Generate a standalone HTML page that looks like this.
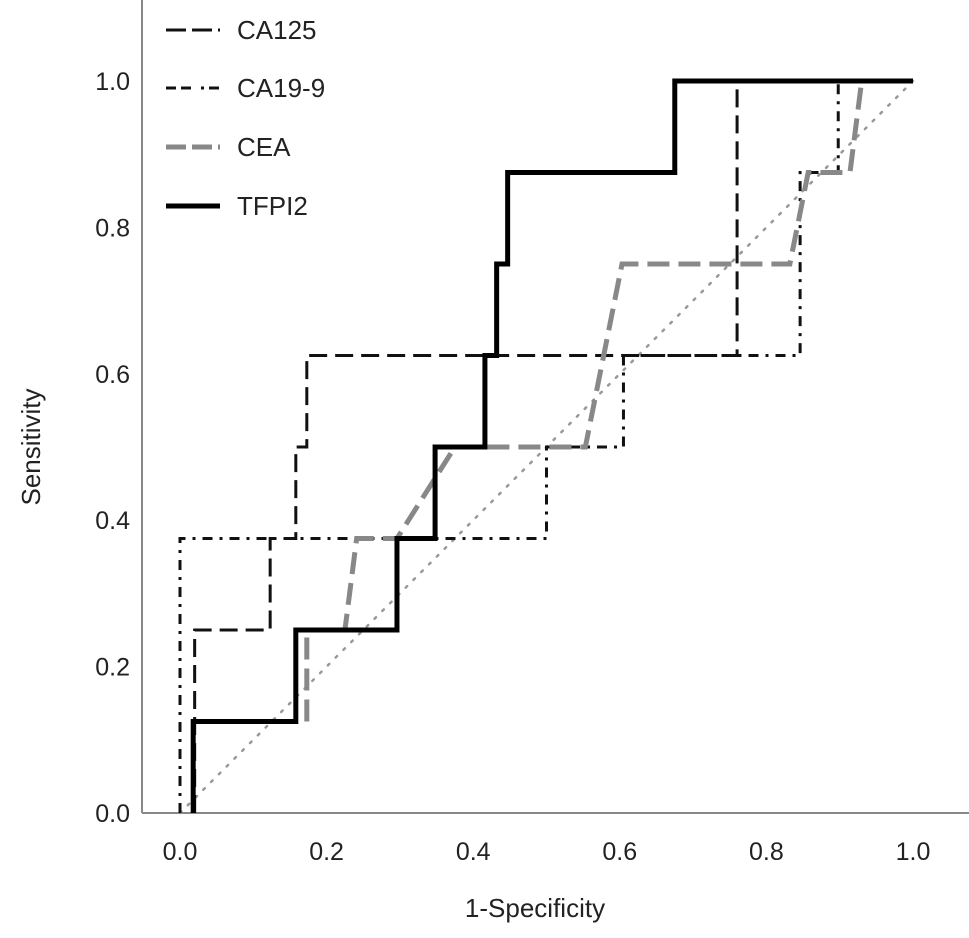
<!DOCTYPE html>
<html><head><meta charset="utf-8"><style>
html,body{margin:0;padding:0;background:#fff;}
svg{display:block;font-family:"Liberation Sans",Arial,sans-serif;}
</style></head><body>
<svg id="chart" width="969" height="938" viewBox="0 0 969 938">
<g id="axes"></g>
<g id="series"></g>
<g id="legend"></g>
<text x="535" y="917" font-size="26" text-anchor="middle" fill="#222">1-Specificity</text>
<text x="40" y="447" font-size="26" text-anchor="middle" fill="#222" transform="rotate(-90 40 447)">Sensitivity</text>
</svg>
<script>
const xTicks = [0, 0.2, 0.4, 0.6, 0.8, 1.0];
const yTicks = [0, 0.2, 0.4, 0.6, 0.8, 1.0];
const seriesNames = ["CA125", "CA19-9", "CEA", "TFPI2"];
const ca125X = [0.02, 0.02, 0.123, 0.123, 0.158, 0.158, 0.173, 0.173, 0.76, 0.76, 1];
const ca125Y = [0, 0.25, 0.25, 0.375, 0.375, 0.5, 0.5, 0.625, 0.625, 1, 1];
const ca199X = [0, 0, 0.5, 0.5, 0.605, 0.605, 0.846, 0.846, 0.898, 0.898, 1];
const ca199Y = [0, 0.375, 0.375, 0.5, 0.5, 0.625, 0.625, 0.875, 0.875, 1, 1];
const ceaX = [0.173, 0.173, 0.225, 0.241, 0.296, 0.375, 0.553, 0.603, 0.832, 0.857, 0.914, 0.93, 1];
const ceaY = [0.125, 0.25, 0.25, 0.375, 0.375, 0.5, 0.5, 0.75, 0.75, 0.875, 0.875, 1, 1];
const tfpiX = [0.018, 0.018, 0.158, 0.158, 0.296, 0.296, 0.348, 0.348, 0.416, 0.416, 0.432, 0.432, 0.447, 0.447, 0.675, 0.675, 1];
const tfpiY = [0, 0.125, 0.125, 0.25, 0.25, 0.375, 0.375, 0.5, 0.5, 0.625, 0.625, 0.75, 0.75, 0.875, 0.875, 1, 1];
const refX = [0, 1];
const refY = [0, 1];

const NS = "http://www.w3.org/2000/svg";
const sx = v => 180 + v * 733;
const sy = v => 813 - v * 732;
function mk(tag, attrs, parent) {
  const e = document.createElementNS(NS, tag);
  for (const k in attrs) e.setAttribute(k, attrs[k]);
  parent.appendChild(e);
  return e;
}
const axes = document.getElementById("axes");
const la = mk("line", {x1:142, y1:0, x2:142, y2:813, stroke:"#888", "stroke-width":2}, axes);


const ba = mk("line", {x1:142, y1:813, x2:969, y2:813, stroke:"#888", "stroke-width":2}, axes);


xTicks.forEach(t => {
  const tx = mk("text", {x:sx(t), y:860, "font-size":25, "text-anchor":"middle", fill:"#222"}, axes);
  tx.textContent = t.toFixed(1);
  
  
});
yTicks.forEach(t => {
  const tx = mk("text", {x:130, y:sy(t) + 9, "font-size":25, "text-anchor":"end", fill:"#222"}, axes);
  tx.textContent = t.toFixed(1);
  
  
});
const ser = document.getElementById("series");
function pts(xs, ys) { return xs.map((x, i) => sx(x) + "," + sy(ys[i])).join(" "); }
const ref = mk("polyline", {points:pts(refX, refY), fill:"none", stroke:"#999", "stroke-width":2.5, "stroke-dasharray":"2 9", "stroke-linecap":"round"}, ser);


const styles = [
  {xs:ca125X, ys:ca125Y, stroke:"#111", w:3, dash:"18 8", name:"ca125-line"},
  {xs:ca199X, ys:ca199Y, stroke:"#111", w:3, dash:"10 7 3 7", name:"ca19-9-line"},
  {xs:ceaX, ys:ceaY, stroke:"#888", w:5, dash:"22 9", name:"cea-line"},
  {xs:tfpiX, ys:tfpiY, stroke:"#000", w:5, dash:"none", name:"tfpi2-line"}
];
styles.forEach(s => {
  const p = mk("polyline", {points:pts(s.xs, s.ys), fill:"none", stroke:s.stroke, "stroke-width":s.w, "stroke-dasharray":s.dash}, ser);
  
  
});
const leg = document.getElementById("legend");
const rows = [30, 88, 147, 206];
styles.forEach((s, i) => {
  const l = mk("line", {x1:166, y1:rows[i], x2:220, y2:rows[i], stroke:s.stroke, "stroke-width":s.w, "stroke-dasharray":i==1?"10 5 10 10 3 5":(i==3?"none":"20 6")}, leg);
  
  
  const t = mk("text", {x:237, y:rows[i] + 9, "font-size":26, fill:"#222"}, leg);
  t.textContent = seriesNames[i];
  
  
});
</script>
</body></html>
